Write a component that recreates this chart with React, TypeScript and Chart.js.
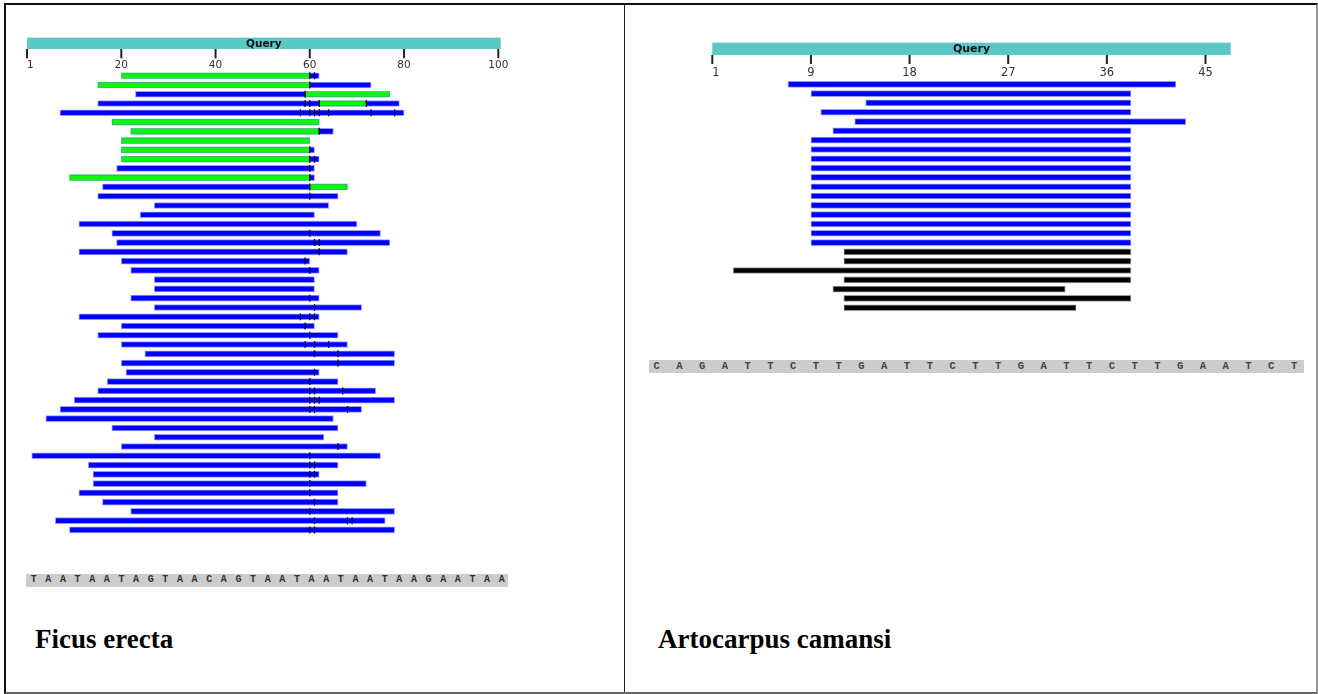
import React, { useEffect, useRef } from 'react';
import { Chart, registerables } from 'chart.js';

Chart.register(...registerables);

type Range = [number, number] | null;

// ---------------- Ficus erecta (left panel) ----------------
const ficusRows: string[] = Array.from({ length: 50 }, (_, i) => `hit ${i + 1}`);

// full extent of each alignment (blue)
const ficusBlue: Range[] = [
  [20, 62], [15, 73], [23, 77], [15, 79], [7, 80],
  [18, 62], [22, 65], [20, 60], [20, 61], [20, 62],
  [19, 61], [9, 61], [16, 68], [15, 66], [27, 64],
  [24, 61], [11, 70], [18, 75], [19, 77], [11, 68],
  [20, 60], [22, 62], [27, 61], [27, 61], [22, 62],
  [27, 71], [11, 62], [20, 61], [15, 66], [20, 68],
  [25, 78], [20, 78], [21, 62], [17, 66], [15, 74],
  [10, 78], [7, 71], [4, 65], [18, 66], [27, 63],
  [20, 68], [1, 75], [13, 66], [14, 62], [14, 72],
  [11, 66], [16, 66], [22, 78], [6, 76], [9, 78],
];

// green (high-identity) segments drawn over the blue
const ficusGreen: Range[] = [
  [20, 60], [15, 60], [59, 77], [62, 72], null,
  [18, 62], [22, 62], [20, 60], [20, 60], [20, 60],
  null, [9, 60], [60, 68], null, null,
  null, null, null, null, null,
  null, null, null, null, null,
  null, null, null, null, null,
  null, null, null, null, null,
  null, null, null, null, null,
  null, null, null, null, null,
  null, null, null, null, null,
];

// mismatch positions marked on each alignment
const ficusMismatch: number[][] = [
  [60, 61], [60], [59], [59, 60, 62, 72], [58, 60, 61, 62, 64, 73, 78],
  [], [62], [], [60], [60, 61],
  [60], [60], [60], [60], [],
  [], [], [60], [61, 62], [62],
  [59], [60], [], [], [60],
  [61], [58, 60, 61], [59], [60], [59, 61, 64],
  [61, 66], [66], [61], [60], [60, 61, 67],
  [60, 61, 62], [60, 61, 68], [], [], [],
  [66], [60], [60, 61], [60, 61], [60],
  [60], [61], [60], [61, 68, 69], [60, 61],
];

const ficusTickValues = [0, 20, 40, 60, 80, 100];
const ficusTickLabels = ['1', '20', '40', '60', '80', '100'];
const ficusQueryEnd = 100.5;
const ficusSequence = 'TAATAATAGTAACAGTAATAATAATAAGAATAA';
const ficusTitle = 'Ficus erecta';

// ---------------- Artocarpus camansi (right panel) ----------------
const artoRows: string[] = Array.from({ length: 25 }, (_, i) => `hit ${i + 1}`);

const artoBlue: Range[] = [
  [6.9, 42.3], [9, 38.2], [14, 38.2], [9.9, 38.2], [13, 43.2], [11, 38.2],
  [9, 38.2], [9, 38.2], [9, 38.2], [9, 38.2], [9, 38.2], [9, 38.2],
  [9, 38.2], [9, 38.2], [9, 38.2], [9, 38.2], [9, 38.2], [9, 38.2],
  null, null, null, null, null, null, null,
];

const artoBlack: Range[] = [
  null, null, null, null, null, null,
  null, null, null, null, null, null,
  null, null, null, null, null, null,
  [12, 38.2], [12, 38.2], [1.9, 38.2], [12, 38.2], [11, 32.2], [12, 38.2], [12, 33.2],
];

const artoTickValues = [0, 9, 18, 27, 36, 45];
const artoTickLabels = ['1', '9', '18', '27', '36', '45'];
const artoQueryEnd = 47.3;
const artoSequence = 'CAGATTCTTGATTCTTGATTCTTGAATCT';
const artoTitle = 'Artocarpus camansi';

// ---------------- components ----------------
interface RulerCfg {
  end: number;
  ticks: number[];
  labels: string[];
  barTop: number;
  barH: number;
  tickLen: number;
  labelY: number;
  queryFont: number;
  labelFont: number;
}

function rulerPlugin(cfg: RulerCfg) {
  return {
    id: 'queryRuler',
    afterDraw(chart: any) {
      const ctx = chart.ctx as CanvasRenderingContext2D;
      const xs = chart.scales.x;
      const top = chart.chartArea.top;
      const x0 = xs.getPixelForValue(0);
      const x1 = xs.getPixelForValue(cfg.end);
      const barY = top + cfg.barTop;
      ctx.save();
      ctx.fillStyle = '#5bc8c8';
      ctx.fillRect(x0, barY, x1 - x0, cfg.barH);
      ctx.fillStyle = '#111';
      ctx.font = `bold ${cfg.queryFont}px "DejaVu Sans", Verdana, sans-serif`;
      ctx.textAlign = 'center';
      ctx.textBaseline = 'middle';
      ctx.fillText('Query', (x0 + x1) / 2, barY + cfg.barH / 2 + 0.5);
      ctx.font = `${cfg.labelFont}px "DejaVu Sans", Verdana, sans-serif`;
      cfg.ticks.forEach((v, i) => {
        const px = xs.getPixelForValue(v);
        ctx.fillStyle = '#222';
        ctx.fillRect(px - 1, barY + cfg.barH, 2, cfg.tickLen);
        ctx.fillStyle = '#333';
        ctx.textAlign = i === 0 ? 'left' : 'center';
        ctx.fillText(cfg.labels[i], px, top + cfg.labelY);
      });
      ctx.restore();
    },
  };
}

interface BarLayer {
  data: Range[];
  color: string;
  halo: string;
}

interface PanelProps {
  left: number;
  top: number;
  width: number;
  height: number;
  padding: { left: number; right: number; top: number; bottom: number };
  xMax: number;
  rows: string[];
  layers: BarLayer[];
  mismatches?: number[][];
  ruler: RulerCfg;
}

function Panel(p: PanelProps) {
  const ref = useRef<HTMLCanvasElement>(null);
  useEffect(() => {
    const canvas = ref.current;
    if (!canvas) return;
    const datasets: any[] = [];
    if (p.mismatches) {
      const pts: { x: number; y: string }[] = [];
      p.rows.forEach((r, i) => (p.mismatches![i] || []).forEach((v) => pts.push({ x: v, y: r })));
      datasets.push({
        type: 'scatter',
        data: pts,
        pointStyle: 'line',
        pointRotation: 90,
        pointRadius: 3.5,
        pointBorderWidth: 1.3,
        pointBorderColor: '#0a0a0a',
        pointBackgroundColor: '#0a0a0a',
        order: 0,
      });
    }
    p.layers.forEach((l, k) =>
      datasets.push({
        type: 'bar',
        data: l.data,
        backgroundColor: l.color,
        borderColor: l.halo,
        borderWidth: 1,
        borderSkipped: false,
        barThickness: 6,
        grouped: false,
        order: k + 1,
      })
    );
    const chart = new Chart(canvas, {
      type: 'bar',
      data: { labels: p.rows, datasets },
      options: {
        indexAxis: 'y',
        responsive: false,
        animation: false,
        events: [],
        devicePixelRatio: 1,
        layout: { padding: p.padding },
        plugins: { legend: { display: false }, tooltip: { enabled: false } },
        scales: {
          x: { type: 'linear', min: 0, max: p.xMax, display: false },
          y: { type: 'category', display: false, offset: true },
        },
      } as any,
      plugins: [rulerPlugin(p.ruler)],
    } as any);
    return () => chart.destroy();
  }, []);
  return (
    <canvas
      ref={ref}
      width={p.width}
      height={p.height}
      style={{ position: 'absolute', left: p.left, top: p.top, width: p.width, height: p.height }}
    />
  );
}

function SeqStrip(props: {
  seq: string;
  left: number;
  top: number;
  width: number;
  height: number;
  cell: number;
  pad: number;
  fontSize: number;
  color: string;
}) {
  const { seq, left, top, width, height, cell, pad, fontSize, color } = props;
  return (
    <div
      style={{
        position: 'absolute',
        left,
        top,
        width,
        height,
        background: '#cccccc',
        overflow: 'hidden',
        whiteSpace: 'nowrap',
        paddingLeft: pad,
        boxSizing: 'border-box',
        fontFamily: '"Liberation Mono", "Courier New", monospace',
        fontWeight: 'bold',
        fontSize,
        lineHeight: `${height}px`,
        color,
      }}
    >
      {seq.split('').map((c, i) => (
        <span key={i} style={{ display: 'inline-block', width: cell }}>
          {c}
        </span>
      ))}
    </div>
  );
}

const titleStyle: React.CSSProperties = {
  position: 'absolute',
  top: 625.5,
  fontFamily: '"Liberation Serif", "Times New Roman", serif',
  fontWeight: 'bold',
  fontSize: 27,
  lineHeight: '27px',
  color: '#000',
  whiteSpace: 'nowrap',
};

export default function App() {
  return (
    <div
      style={{
        position: 'fixed',
        left: 0,
        top: 0,
        width: 1318,
        height: 694,
        background: '#fff',
        overflow: 'hidden',
      }}
    >
      {/* frame */}
      <div
        style={{
          position: 'absolute',
          left: 4,
          top: 3,
          width: 1314,
          height: 691,
          boxSizing: 'border-box',
          borderTop: '2px solid #111',
          borderLeft: '2px solid #111',
          borderRight: '2px solid #999',
          borderBottom: '2px solid #666',
        }}
      />
      <div style={{ position: 'absolute', left: 624, top: 4, width: 1, height: 688, background: '#222' }} />

      <Panel
        left={0}
        top={0}
        width={624}
        height={600}
        padding={{ left: 27.05, right: 102.14, top: 71.07, bottom: 65.43 }}
        xMax={105}
        rows={ficusRows}
        layers={[
          { data: ficusGreen, color: '#0ef50e', halo: 'rgba(14,245,14,0.45)' },
          { data: ficusBlue, color: '#0000ff', halo: 'rgba(0,0,255,0.4)' },
        ]}
        mismatches={ficusMismatch}
        ruler={{
          end: ficusQueryEnd,
          ticks: ficusTickValues,
          labels: ficusTickLabels,
          barTop: -33.4,
          barH: 11.3,
          tickLen: 9.3,
          labelY: -5.5,
          queryFont: 10.5,
          labelFont: 10.5,
        }}
      />

      <Panel
        left={626}
        top={0}
        width={690}
        height={400}
        padding={{ left: 86.3, right: 55.7, top: 79.65, bottom: 87.6 }}
        xMax={50}
        rows={artoRows}
        layers={[
          { data: artoBlue, color: '#0000ff', halo: 'rgba(0,0,255,0.4)' },
          { data: artoBlack, color: '#000000', halo: 'rgba(0,0,0,0.4)' },
        ]}
        ruler={{
          end: artoQueryEnd,
          ticks: artoTickValues,
          labels: artoTickLabels,
          barTop: -37,
          barH: 12.3,
          tickLen: 9,
          labelY: -6.7,
          queryFont: 11,
          labelFont: 11.5,
        }}
      />

      <SeqStrip seq={ficusSequence} left={26} top={574} width={482} height={12.5} cell={14.625} pad={4.7} fontSize={10} color="#333" />
      <SeqStrip seq={artoSequence} left={649} top={360} width={655} height={12.5} cell={22.78} pad={4.45} fontSize={10.5} color="#444" />

      <div style={{ ...titleStyle, left: 35 }}>{ficusTitle}</div>
      <div style={{ ...titleStyle, left: 658 }}>{artoTitle}</div>
    </div>
  );
}
